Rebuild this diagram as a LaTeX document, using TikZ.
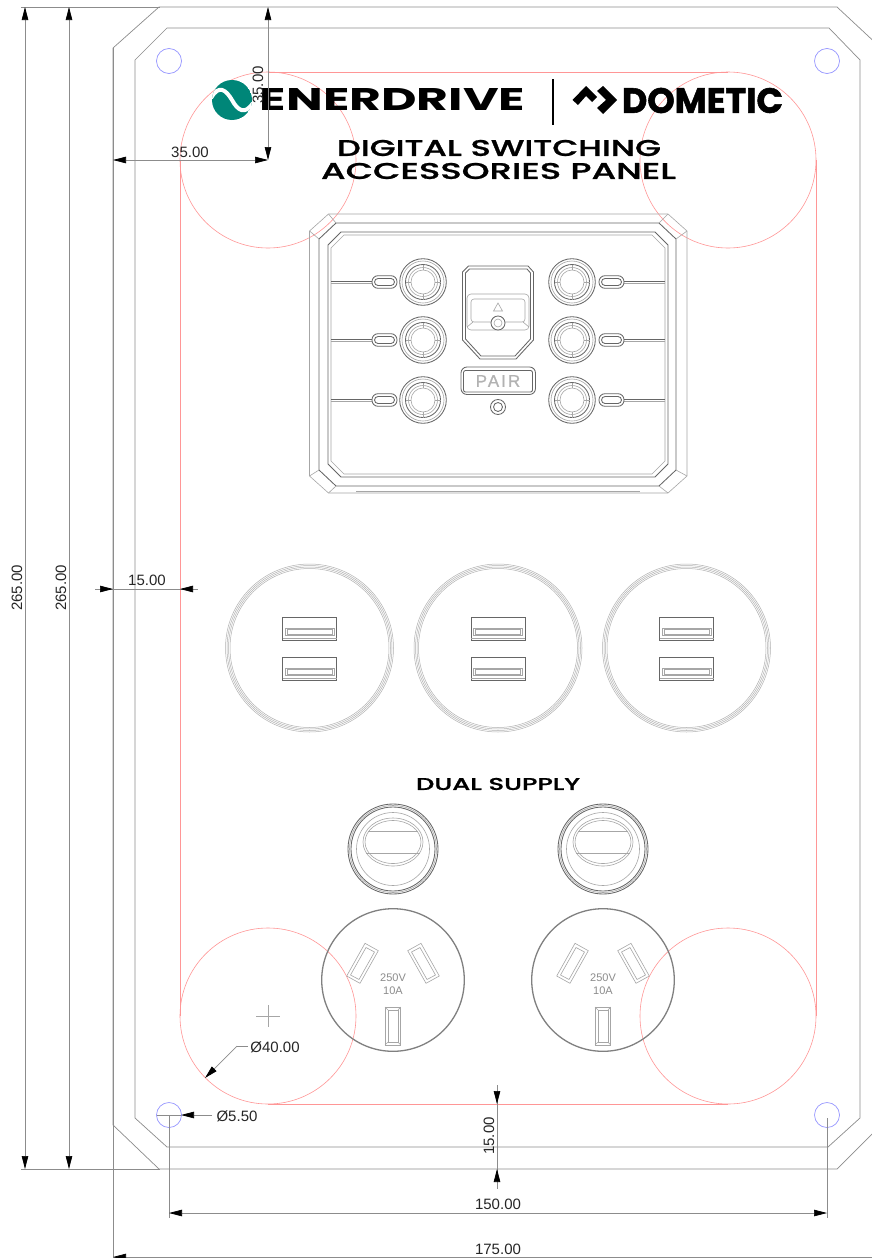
\documentclass[tikz,border=0pt]{standalone}
\usepackage{graphicx}
\usepackage{fontspec}
\setmainfont{Liberation Sans}
\newfontfamily\logofont{Poppins}
\newfontfamily\titlefont[FakeBold=0.9]{Poppins Medium}
\usetikzlibrary{arrows.meta}
\definecolor{tealbrand}{RGB}{0,134,120}
\definecolor{redline}{RGB}{255,150,150}
\definecolor{blueline}{RGB}{150,150,255}
\tikzset{
  dimline/.style={draw=black!45,line width=0.7pt},
  dimarrow/.style={dimline,{Triangle[length=13pt,width=6.5pt,black]}-{Triangle[length=13pt,width=6.5pt,black]}},
  endarrow/.style={dimline,-{Triangle[length=13pt,width=6.5pt,black]}},
  dimtext/.style={font=\fontsize{15}{15}\selectfont,text=black!85,inner sep=0pt},
  panelline/.style={draw=black!45,line width=0.7pt},
  redl/.style={draw=redline,line width=0.6pt},
  bluel/.style={draw=blueline,line width=0.7pt},
  thinl/.style={draw=black!35,line width=0.6pt},
  darkl/.style={draw=black!60,line width=0.85pt},
  usbl/.style={draw=black!30,line width=0.5pt},
  titletext/.style={inner sep=0pt,text=black},
  rating/.style={inner sep=0pt,text=black!45,font=\fontsize{11}{11}\selectfont}
}
% chamfered rectangle: x1 y1 x2 y2 dx dy style
\newcommand{\chamfbox}[7]{\draw[#7] (#1+#5,#2) -- (#3-#5,#2) -- (#3,#2+#6) -- (#3,#4-#6) -- (#3-#5,#4) -- (#1+#5,#4) -- (#1,#4-#6) -- (#1,#2+#6) -- cycle;}
\newcommand{\fittext}[3]{\resizebox{#1pt}{#2pt}{#3}}
\begin{document}
\begin{tikzpicture}[x=1pt,y=-1pt]
\useasboundingbox (0,0) rectangle (872,1258);
\clip (0,0) rectangle (872,1258);
\fill[white] (0,0) rectangle (872,1258);

% panel outlines
\draw[panelline] (113,48) -- (159,7) -- (837,7) -- (881,48) -- (881,1125) -- (837,1169) -- (159,1169) -- (113,1125) -- cycle;
\draw[panelline] (135,60) -- (167,28) -- (829,28) -- (860,60) -- (860,1118) -- (828,1147) -- (167,1147) -- (135,1118) -- cycle;

% red mounting outline
\draw[redl] (268,160) circle[radius=88];
\draw[redl] (728,160) circle[radius=88];
\draw[redl] (268,1016) circle[radius=88];
\draw[redl] (728,1016) circle[radius=88];
\draw[redl] (268,72) -- (728,72);
\draw[redl] (268,1104) -- (728,1104);
\draw[redl] (180,160) -- (180,1016);
\draw[redl] (816,160) -- (816,1016);

% blue holes
\foreach \hx/\hy in {169/61,827/61,169/1115,827/1115}
  \draw[bluel] (\hx,\hy) circle[radius=12.5];

% logos
\begin{scope}
  \clip (232,100) circle[radius=20];
  \fill[tealbrand] (232,100) circle[radius=20];
  \draw[white,line width=4pt] (211,98) .. controls (219,84) and (226,90) .. (232,100) .. controls (238,111) and (245,115) .. (253,103);
\end{scope}
\node[titletext] (enerdrive) at (392.5,99) {\fittext{265}{22}{\logofont\bfseries ENERDRIVE}};
\draw[black,line width=1.4pt] (553,79) -- (553,125);
\fill[black] (572.5,100) -- (586,86) -- (597,97) -- (592,102) -- (586,96) -- (578,105) -- cycle;
\fill[black] (597,91) -- (603,86) -- (617,100) -- (603,114) -- (597,108) -- (606,100) -- cycle;
\node[titletext] (dometic) at (702.5,100.5) {\fittext{161}{25}{\logofont\bfseries\addfontfeatures{FakeBold=1.5}DOMETIC}};
\node[titletext] (title1) at (499,148) {\fittext{324}{16}{\titlefont DIGITAL SWITCHING}};
\node[titletext] (title2) at (498.5,171) {\fittext{355}{16}{\titlefont ACCESSORIES PANEL}};

% switch panel
\chamfbox{309.5}{214}{687}{493}{19}{17}{thinl}
\chamfbox{319}{223}{676}{486}{17}{16}{darkl}
\chamfbox{328}{232}{668}{477}{13}{13}{darkl}
\chamfbox{331}{235}{665}{474}{13}{13}{thinl}
\draw[thinl] (309.5,231) -- (319,239) (328.5,214) -- (336,223);
\draw[thinl] (687,231) -- (676,239) (668,214) -- (659,223);
\draw[thinl] (309.5,476) -- (319,470) (328.5,493) -- (336,486);
\draw[thinl] (687,476) -- (676,470) (668,493) -- (659,486);
\draw[thinl] (356,491.5) -- (640,491.5);
\foreach \ry in {282,340,400}{
  \draw[darkl] (331,\ry-0.8) -- (372,\ry-0.8);
  \draw[thinl] (331,\ry+1) -- (372,\ry+1);
  \draw[darkl] (624,\ry-0.8) -- (665,\ry-0.8);
  \draw[thinl] (624,\ry+1) -- (665,\ry+1);
  \draw[darkl,rounded corners=6pt] (372,\ry-6.3) rectangle (397,\ry+6.3);
  \draw[darkl,rounded corners=3.5pt] (374.5,\ry-3.5) rectangle (394.5,\ry+3.5);
  \draw[darkl,rounded corners=6pt] (599,\ry-6.3) rectangle (624,\ry+6.3);
  \draw[darkl,rounded corners=3.5pt] (601.5,\ry-3.5) rectangle (621.5,\ry+3.5);
  \foreach \bx in {423,572}{
    \draw[darkl] (\bx,\ry) circle[radius=23.3];
    \draw[thinl] (\bx,\ry) circle[radius=21];
    \draw[darkl] (\bx,\ry) circle[radius=17.5];
    \draw[thinl] (\bx,\ry) circle[radius=14.5];
    \draw[thinl] (\bx,\ry) circle[radius=12];
    \draw[thinl] (\bx-17.5,\ry) -- (\bx-12,\ry) (\bx+17.5,\ry) -- (\bx+12,\ry) (\bx,\ry-17.5) -- (\bx,\ry-12) (\bx,\ry+17.5) -- (\bx,\ry+12);
  }
}
% centre module
\draw[darkl] (468.5,266) -- (528,266) -- (533.5,272) -- (533.5,340) -- (516,359) -- (480,359) -- (462.5,340) -- (462.5,272) -- cycle;
\draw[darkl] (469.5,269) -- (527,269) -- (530.5,273) -- (530.5,339) -- (515,356) -- (481,356) -- (465.5,339) -- (465.5,273) -- cycle;
\draw[thinl,rounded corners=4pt] (467,330) -- (467,294) -- (529,294) -- (529,330) -- cycle;
\draw[thinl,rounded corners=3pt] (471,322) -- (471,299) -- (525,299) -- (525,322) -- cycle;
\draw[thinl] (467,327) -- (473,322) (529,327) -- (523,322);
\draw[thinl] (498,303) -- (502.5,311) -- (493.5,311) -- cycle;
\draw[darkl,fill=white] (498,323) circle[radius=7];
\draw[thinl] (498,323) circle[radius=4];
\draw[darkl,rounded corners=6pt] (461,367) rectangle (535.5,394.5);
\draw[darkl,rounded corners=2pt] (463.5,370.5) rectangle (532.5,392);
\node[inner sep=0pt,text=black!30,font=\fontsize{17}{17}\selectfont] (pair) at (498,381) {\addfontfeatures{LetterSpace=12,FakeBold=0.6}PAIR};
\draw[darkl] (498,407) circle[radius=7.5];
\draw[darkl] (498,407) circle[radius=4.5];

% USB sockets
\foreach \ux in {309.5,498,686.5}{
  \foreach \ur in {84,82.5,81,79.5}
    \draw[usbl] (\ux,648) circle[radius=\ur];
  \foreach \uy in {617,657}{
    \draw[darkl] (\ux-27,\uy) rectangle (\ux+27,\uy+23.5);
    \draw[thinl] (\ux-27,\uy+21.5) -- (\ux+27,\uy+21.5);
    \draw[thinl] (\ux-24.5,\uy+11) rectangle (\ux+24.5,\uy+18.5);
    \draw[thinl] (\ux-22.5,\uy+12.5) rectangle (\ux+22.5,\uy+17);
  }
}
\node[titletext] (dual) at (498,784) {\fittext{164}{12}{\titlefont DUAL SUPPLY}};

% switches and outlets
\foreach \sx in {393,603}{
  \draw[darkl] (\sx,849) circle[radius=45];
  \draw[thinl] (\sx,849) circle[radius=43.5];
  \draw[darkl] (\sx,849) circle[radius=42];
  \draw[thinl] (\sx,849) circle[radius=36.5];
  \draw[thinl] (\sx,842) ellipse[x radius=30,y radius=24];
  \draw[thinl] (\sx,842) ellipse[x radius=28,y radius=21.5];
  \draw[thinl] (\sx-25,831) -- (\sx+25,831);
  \draw[thinl] (\sx-27,853) -- (\sx+27,853);
  \draw[draw=black!50,line width=1.3pt] (\sx,980) circle[radius=71.3];
  \draw[thinl] (\sx-28,943.3) -- (\sx-14.7,950.7) -- (\sx-33,983.3) -- (\sx-46.3,976) -- cycle;
  \draw[thinl] (\sx-27,947.5) -- (\sx-18.5,952) -- (\sx-34,979.5) -- (\sx-42.5,975) -- cycle;
  \draw[thinl] (\sx+28,943.3) -- (\sx+14.7,950.7) -- (\sx+33,983.3) -- (\sx+46.3,976) -- cycle;
  \draw[thinl] (\sx+27,947.5) -- (\sx+18.5,952) -- (\sx+34,979.5) -- (\sx+42.5,975) -- cycle;
  \draw[thinl] (\sx-8,1007) rectangle (\sx+7.7,1045);
  \draw[thinl] (\sx-5,1010) rectangle (\sx+5,1042);
  \draw[thinl] (\sx-8,1007) -- (\sx-5,1010) (\sx+7.7,1007) -- (\sx+5,1010) (\sx-8,1045) -- (\sx-5,1042) (\sx+7.7,1045) -- (\sx+5,1042);
  \node[rating] at (\sx,978) {250V};
  \node[rating] at (\sx,991) {10A};
}

% dimensions
\draw[dimline] (21,7) -- (160,7);
\draw[dimline] (21,1169) -- (160,1169);
\draw[dimarrow] (25,7) -- (25,1169);
\draw[dimarrow] (69,7) -- (69,1169);
\node[dimtext,rotate=90] (d265a) at (17,588) {265.00};
\node[dimtext,rotate=90] (d265b) at (61,588) {265.00};
\draw[dimarrow] (268,7) -- (268,160);
\node[dimtext,rotate=90] (d35v) at (258,85) {35.00};
\draw[dimline] (113,48) -- (113,1258);
\draw[dimarrow] (113,160) -- (268,160);
\node[dimtext] (d35h) at (190,152) {35.00};
\draw[dimline] (95,589) -- (198,589);
\draw[endarrow] (100,589) -- (113,589);
\draw[endarrow] (194,589) -- (180,589);
\node[dimtext] (d15h) at (147,580) {15.00};
\draw[thinl] (268,1005) -- (268,1027) (256,1016) -- (280,1016);
\draw[dimline] (248,1046) -- (237,1046);
\draw[endarrow] (237,1046) -- (205,1078);
\node[dimtext] (d40) at (275,1047) {Ø40.00};
\draw[dimline] (157,1115) -- (181,1115);
\draw[endarrow] (212,1115) -- (181,1115);
\node[dimtext] (d55) at (237,1116) {Ø5.50};
\draw[dimline] (169,1115) -- (169,1218);
\draw[dimline] (827,1118) -- (827,1218);
\draw[dimarrow] (169,1213) -- (827,1213);
\node[dimtext] (d150) at (498,1204) {150.00};
\draw[dimline] (497,1085) -- (497,1189);
\draw[endarrow] (497,1090) -- (497,1104);
\draw[endarrow] (497,1183) -- (497,1169);
\node[dimtext,rotate=90] (d15v) at (489,1136) {15.00};
\draw[dimline] (113,1257) -- (872,1257);
\draw[endarrow] (125,1257) -- (113,1257);
\node[dimtext] (d175) at (498,1249) {175.00};
\end{tikzpicture}
\end{document}
